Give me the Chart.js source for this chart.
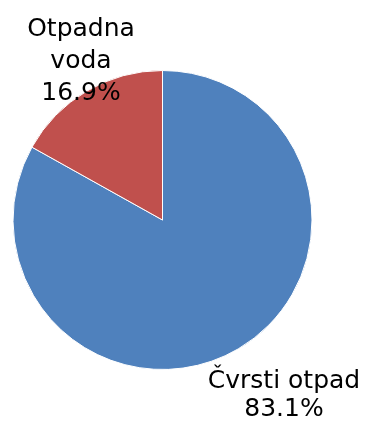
<!DOCTYPE html>
<html>
<head>
<meta charset="utf-8">
<script src="https://cdn.jsdelivr.net/npm/chart.js@4"></script>
<style>
    html, body { margin: 0; padding: 0; background: #fff; }
    #wrap { width: 368px; height: 425px; }
</style>
</head>
<body>
<div id="wrap"><canvas id="waste-chart" width="368" height="425"></canvas></div>
<script>
const categories = ['Čvrsti otpad', 'Otpadna voda'];
const shares = [83.1, 16.9];
const sliceColors = ['#4F81BD', '#C0504D'];

// label text lines, drawn next to each slice
const labelLines = [
    ['Čvrsti otpad', '83.1%'],
    ['Otpadna', 'voda', '16.9%']
];

const labelPlugin = {
    id: 'sliceLabels',
    afterDraw: function (chart) {
        const ctx = chart.ctx;
        const area = chart.chartArea;
        ctx.save();
        ctx.fillStyle = '#000';
        ctx.font = '25px "DejaVu Sans"';
        ctx.textAlign = 'center';
        ctx.textBaseline = 'alphabetic';

        // bottom right label (blue slice)
        let x = area.right - 29;
        let y = area.bottom + 18;
        labelLines[0].forEach((line, i) => ctx.fillText(line, x, y + i * 28));

        // top left label (red slice)
        x = area.left + 69;
        y = area.top - 34;
        labelLines[1].forEach((line, i) => ctx.fillText(line, x, y + i * 32));
        ctx.restore();
    }
};

const ctx = document.getElementById('waste-chart').getContext('2d');
new Chart(ctx, {
    type: 'pie',
    data: {
        labels: categories,
        datasets: [{
            data: shares,
            backgroundColor: sliceColors,
            borderColor: '#fff',
            borderWidth: 1
        }]
    },
    options: {
        responsive: false,
        animation: false,
        layout: {
            padding: { left: 12, right: 55, top: 70, bottom: 55 }
        },
        plugins: {
            legend: { display: false },
            tooltip: { enabled: false }
        }
    },
    plugins: [labelPlugin]
});
</script>
</body>
</html>
